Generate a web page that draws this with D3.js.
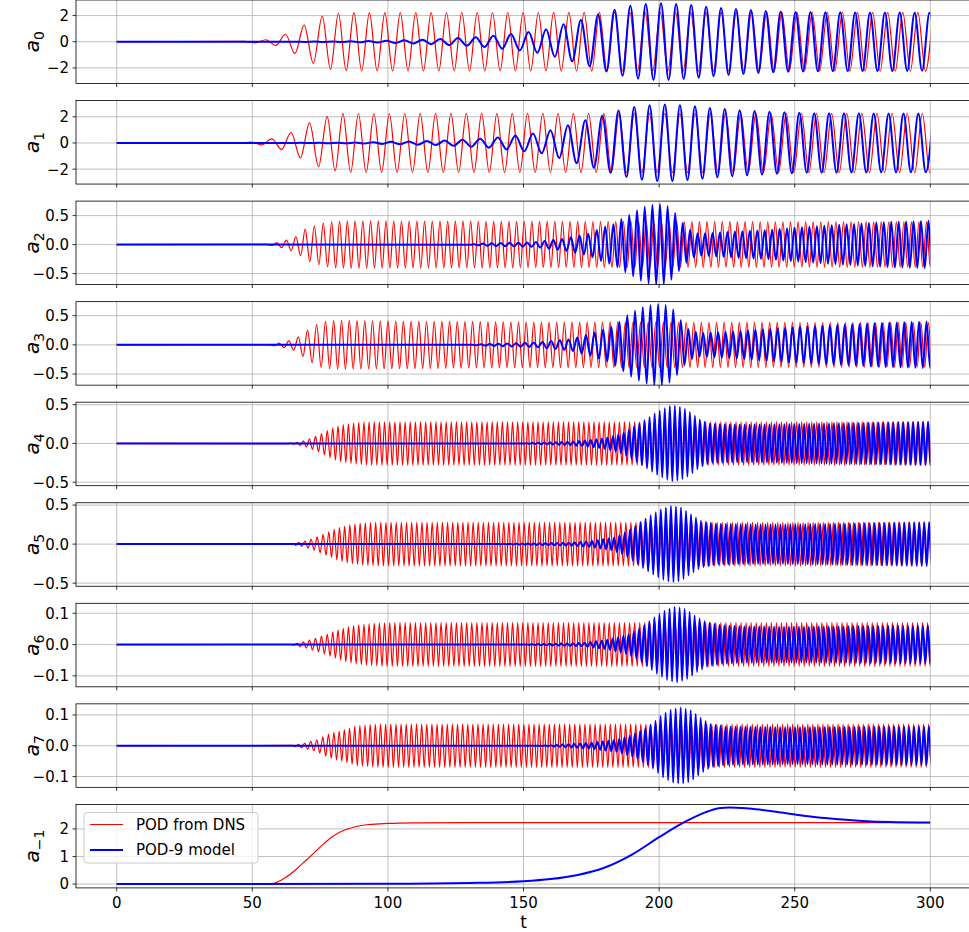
<!DOCTYPE html>
<html>
<head>
<meta charset="utf-8">
<script src="https://cdn.jsdelivr.net/npm/d3@7"></script>
<style>
  body { margin: 0; background: #fff; }
  svg { display: block; font-family: "DejaVu Sans", sans-serif; }
</style>
</head>
<body>
<svg width="969" height="932"></svg>
<script>
// Envelopes: [t, amplitude]
var a0Red  = [[45,0],[50,0.05],[54.9,0.15],[59,0.3],[62.3,0.58],[65.9,0.91],[69.3,1.29],[72.7,1.67],[76.1,1.98],[79.2,2.13],[81.9,2.18],[86,2.23],[300,2.25]];
var a0Blue = [[60,0],[80,0.02],[90,0.04],[100,0.08],[112,0.15],[118,0.2],[125,0.28],[132,0.33],[138.7,0.46],[144.6,0.58],[151.6,0.73],[158,0.94],[164,1.29],[170.6,1.62],[177,2.05],[183.3,2.43],[189.2,2.74],[195,2.89],[200.7,2.94],[206,2.89],[212,2.8],[217,2.69],[222.6,2.58],[228,2.5],[233,2.43],[239,2.36],[249.5,2.28],[270,2.24],[300,2.22]];
var a1Red  = [[44,0],[48.7,0.05],[53,0.13],[56.9,0.3],[60,0.43],[63.8,0.75],[67.4,1.1],[70.8,1.5],[74,1.78],[77.4,2.03],[80.6,2.13],[83.7,2.25],[300,2.27]];
var a1Blue = [[60,0],[80,0.02],[90,0.04],[100,0.08],[112,0.14],[121,0.18],[139,0.38],[157,0.8],[165.6,1.3],[172,1.7],[178,2.0],[184.6,2.45],[191,2.75],[196,2.88],[201.8,2.95],[207,2.9],[213,2.8],[220,2.65],[230,2.5],[240,2.38],[255,2.28],[300,2.24]];
var a2Red  = [[55,0],[57.8,0.02],[61.4,0.06],[64,0.1],[66.8,0.15],[69.6,0.27],[73.5,0.33],[76.8,0.38],[80.4,0.4],[85,0.41],[150,0.4],[300,0.39]];
var a2Blue = [[130,0],[136,0.02],[154,0.04],[165,0.1],[174,0.19],[179,0.29],[183.7,0.36],[186.4,0.45],[189.5,0.52],[192.2,0.6],[195.1,0.66],[197.6,0.69],[200.4,0.7],[203,0.67],[205.8,0.55],[208.5,0.38],[211.8,0.24],[214.5,0.19],[220,0.2],[230,0.23],[240,0.25],[250,0.29],[266,0.34],[284,0.39],[300,0.41]];
var a3Red  = [[55,0],[57.8,0.01],[62,0.05],[66,0.1],[68.7,0.2],[72.6,0.32],[76,0.4],[82,0.42],[100,0.41],[150,0.39],[300,0.38]];
var a3Blue = [[130,0],[140,0.02],[155,0.04],[168,0.1],[175.5,0.2],[182,0.3],[185.5,0.4],[188,0.5],[191,0.58],[193.7,0.64],[196.4,0.68],[200,0.7],[202.7,0.68],[205.4,0.6],[208,0.42],[211,0.26],[215,0.2],[230,0.24],[248,0.3],[266,0.34],[284,0.38],[300,0.4]];
var a4Red  = [[62,0],[66,0.01],[69.6,0.04],[74,0.1],[79.5,0.2],[83,0.24],[86.8,0.26],[92,0.28],[300,0.28]];
var a4Blue = [[150,0],[157,0.01],[166.5,0.02],[173.7,0.04],[179,0.06],[182.8,0.09],[186.4,0.13],[190,0.2],[193.7,0.28],[196.4,0.34],[199,0.4],[201.8,0.45],[204.5,0.49],[207,0.48],[210,0.44],[212.7,0.37],[215.4,0.3],[219,0.25],[230,0.24],[248,0.25],[266,0.26],[284,0.27],[300,0.28]];
var a5Red  = [[62,0],[64,0.005],[68.6,0.03],[73,0.08],[77.7,0.15],[81,0.2],[85,0.24],[90.4,0.27],[96,0.28],[300,0.28]];
var a5Blue = [[140,0],[148,0.005],[168,0.02],[175.5,0.04],[183,0.08],[186.5,0.13],[190,0.2],[193.7,0.3],[197.3,0.38],[201,0.45],[204.5,0.49],[208,0.47],[211.8,0.38],[215.4,0.3],[221,0.26],[239,0.25],[266,0.26],[300,0.28]];
var a6Red  = [[64,0],[66,0.003],[69.6,0.01],[74,0.022],[77.7,0.034],[82,0.048],[86.8,0.06],[92,0.066],[99.5,0.07],[300,0.07]];
var a6Blue = [[150,0],[157,0.002],[172,0.005],[181,0.015],[188,0.03],[192.7,0.05],[196.4,0.075],[199,0.092],[202.7,0.112],[206.3,0.122],[210,0.112],[213.6,0.09],[217.2,0.072],[222.6,0.062],[230,0.058],[248,0.057],[266,0.058],[300,0.06]];
var a7Red  = [[64,0],[66,0.003],[70,0.01],[74,0.02],[78.6,0.04],[83,0.05],[88.6,0.065],[96,0.07],[300,0.07]];
var a7Blue = [[155,0],[161,0.002],[175.5,0.01],[184.6,0.02],[190,0.035],[193.7,0.05],[197.3,0.07],[201,0.1],[204.5,0.118],[208,0.124],[211.8,0.115],[215.4,0.09],[219,0.07],[224.5,0.062],[248,0.06],[300,0.062]];

// fundamental period of the oscillation, [t, period]
var redPeriod  = [[50,8.2],[60,7.2],[70,6.8],[76,6.6],[80,5.9],[84,5.72],[140,5.64],[300,5.56]];
var bluePeriod = [[60,6.7],[110,6.6],[175,6.4],[183,6.0],[190,5.75],[200,5.6],[215,5.5],[300,5.48]];
var harmonics  = [1, 1, 2, 2, 3, 3, 3, 3];
// time of one positive peak in each signal
var redPeak  = [144.2, 140.2, 298.6, 299.3, 299, 299.5, 299, 299.4];
var bluePeak = [200.7, 202.1, 299.3, 298.6, 299.2, 299.6, 299.1, 299.5];

// mean flow mode a_-1
var aM1Red  = [[0,0],[55,0],[58,0.03],[62,0.22],[66,0.52],[70,0.88],[73,1.15],[76,1.43],[80,1.75],[84,1.96],[88,2.08],[93,2.16],[100,2.2],[110,2.22],[130,2.23],[300,2.23]];
var aM1Blue = [[0,0],[100,0.01],[130,0.04],[150,0.1],[160,0.18],[170,0.33],[180,0.6],[190,1.07],[200,1.7],[210,2.28],[217,2.6],[222,2.75],[226,2.78],[233,2.74],[245,2.6],[255,2.46],[265,2.36],[275,2.29],[285,2.25],[300,2.23]];

var xTicks = [0, 50, 100, 150, 200, 250, 300];

var panels = [
  {sub: "0",  dom: [-3.19, 3.19],   ticks: [-2, 0, 2],       fmt: d3.format("d"),   red: a0Red, blue: a0Blue},
  {sub: "1",  dom: [-3.14, 3.24],   ticks: [-2, 0, 2],       fmt: d3.format("d"),   red: a1Red, blue: a1Blue},
  {sub: "2",  dom: [-0.69, 0.75],   ticks: [-0.5, 0, 0.5],   fmt: d3.format(".1f"), red: a2Red, blue: a2Blue},
  {sub: "3",  dom: [-0.69, 0.74],   ticks: [-0.5, 0, 0.5],   fmt: d3.format(".1f"), red: a3Red, blue: a3Blue},
  {sub: "4",  dom: [-0.545, 0.532], ticks: [-0.5, 0, 0.5],   fmt: d3.format(".1f"), red: a4Red, blue: a4Blue},
  {sub: "5",  dom: [-0.54, 0.53],   ticks: [-0.5, 0, 0.5],   fmt: d3.format(".1f"), red: a5Red, blue: a5Blue},
  {sub: "6",  dom: [-0.135, 0.132], ticks: [-0.1, 0, 0.1],   fmt: d3.format(".1f"), red: a6Red, blue: a6Blue},
  {sub: "7",  dom: [-0.135, 0.136], ticks: [-0.1, 0, 0.1],   fmt: d3.format(".1f"), red: a7Red, blue: a7Blue},
  {sub: "\u22121", dom: [-0.14, 2.89], ticks: [0, 1, 2],     fmt: d3.format("d")}
];

var LEFT = 76, PANEL_H = 83.5, STEP = 100.55;
var svg = d3.select("svg");
var x = d3.scaleLinear().domain([-15, 315]).range([LEFT, 971]);

// peaks and troughs, alternating, spaced by half the local period
function extrema(env, period, harm, anchor) {
  var amp = d3.scaleLinear().domain(env.map(d => d[0])).range(env.map(d => d[1])).clamp(true);
  var per = d3.scaleLinear().domain(period.map(d => d[0])).range(period.map(d => d[1] / harm)).clamp(true);
  var t0 = env[0][0], back = [], fwd = [];
  var t = anchor, s = 1;
  while (t > t0) { back.push([t, s * amp(t)]); t -= per(t) / 2; s = -s; }
  t = anchor + per(anchor) / 2; s = -1;
  while (t < 303) { fwd.push([t, s * amp(t)]); t += per(t) / 2; s = -s; }
  return [[0, 0]].concat(back.reverse(), fwd);
}

var minus = s => s.replace("-", "\u2212");

panels.forEach(function(p, i) {
  var top = i * STEP, bottom = top + PANEL_H;
  var y = d3.scaleLinear().domain(p.dom).range([bottom, top]);
  var g = svg.append("g");

  g.append("clipPath").attr("id", "clip" + i)
    .append("rect").attr("x", x(-15)).attr("y", top).attr("width", x(300) - x(-15)).attr("height", PANEL_H);

  // grid
  g.selectAll(".vg").data(xTicks).enter().append("line")
    .attr("x1", d => x(d)).attr("x2", d => x(d)).attr("y1", top).attr("y2", bottom)
    .attr("stroke", "#b0b0b0").attr("stroke-width", 0.8);
  g.selectAll(".hg").data(p.ticks).enter().append("line")
    .attr("x1", LEFT).attr("x2", 971).attr("y1", d => y(d)).attr("y2", d => y(d))
    .attr("stroke", "#b0b0b0").attr("stroke-width", 0.8);

  var line = d3.line().x(d => x(d[0])).y(d => y(d[1])).curve(d3.curveMonotoneX);
  var lines = g.append("g").attr("clip-path", "url(#clip" + i + ")");

  if (i < 8) {
    lines.append("path").attr("d", line(extrema(p.red, redPeriod, harmonics[i], redPeak[i])))
      .attr("fill", "none").attr("stroke", "#ff0000").attr("stroke-width", 1.2);
    lines.append("path").attr("d", line(extrema(p.blue, bluePeriod, harmonics[i], bluePeak[i])))
      .attr("fill", "none").attr("stroke", "#0000ff").attr("stroke-width", 2);
  } else {
    lines.append("path").attr("d", line(aM1Red))
      .attr("fill", "none").attr("stroke", "#ff0000").attr("stroke-width", 1.2);
    lines.append("path").attr("d", line(aM1Blue))
      .attr("fill", "none").attr("stroke", "#0000ff").attr("stroke-width", 2);
  }

  // frame
  g.append("rect").attr("x", LEFT).attr("y", top).attr("width", 971 - LEFT).attr("height", PANEL_H)
    .attr("fill", "none").attr("stroke", "#000").attr("stroke-width", 0.8);

  // y axis ticks and labels
  g.selectAll(".yt").data(p.ticks).enter().append("line")
    .attr("x1", LEFT - 3.5).attr("x2", LEFT).attr("y1", d => y(d)).attr("y2", d => y(d))
    .attr("stroke", "#000").attr("stroke-width", 0.8);
  g.selectAll(".yl").data(p.ticks).enter().append("text")
    .attr("x", LEFT - 7).attr("y", d => y(d)).attr("dy", "0.36em")
    .attr("text-anchor", "end").attr("font-size", 15).attr("fill", "#000")
    .text(d => minus(p.fmt(d)));

  // x axis ticks
  g.selectAll(".xt").data(xTicks).enter().append("line")
    .attr("x1", d => x(d)).attr("x2", d => x(d)).attr("y1", bottom).attr("y2", bottom + 3.5)
    .attr("stroke", "#000").attr("stroke-width", 0.8);

  // axis label a_i
  var lab = g.append("text")
    .attr("transform", "translate(39," + (top + PANEL_H / 2) + ") rotate(-90)")
    .attr("text-anchor", "middle").attr("font-size", 20).attr("fill", "#000");
  lab.append("tspan").attr("font-style", "italic").text("a");
  lab.append("tspan").attr("font-size", 14).attr("dy", 5).text(p.sub);

  if (i === 8) {
    g.selectAll(".xl").data(xTicks).enter().append("text")
      .attr("x", d => x(d)).attr("y", 908)
      .attr("text-anchor", "middle").attr("font-size", 15).attr("fill", "#000")
      .text(d => d);
    svg.append("text").attr("x", x(150)).attr("y", 928)
      .attr("text-anchor", "middle").attr("font-size", 17).attr("fill", "#000").text("t");

    // legend
    var leg = svg.append("g");
    leg.append("rect").attr("x", 84).attr("y", 812.5).attr("width", 174).attr("height", 50.5)
      .attr("rx", 3).attr("fill", "#fff").attr("fill-opacity", 0.8).attr("stroke", "#cccccc");
    var items = [["POD from DNS", "#ff0000", 1.2], ["POD-9 model", "#0000ff", 2]];
    items.forEach(function(it, k) {
      var ly = 824.5 + k * 25.5;
      leg.append("line").attr("x1", 90).attr("x2", 123).attr("y1", ly).attr("y2", ly)
        .attr("stroke", it[1]).attr("stroke-width", it[2]);
      leg.append("text").attr("x", 136).attr("y", ly).attr("dy", "0.36em")
        .attr("font-size", 15).attr("fill", "#000").text(it[0]);
    });
  }
});
</script>
</body>
</html>
